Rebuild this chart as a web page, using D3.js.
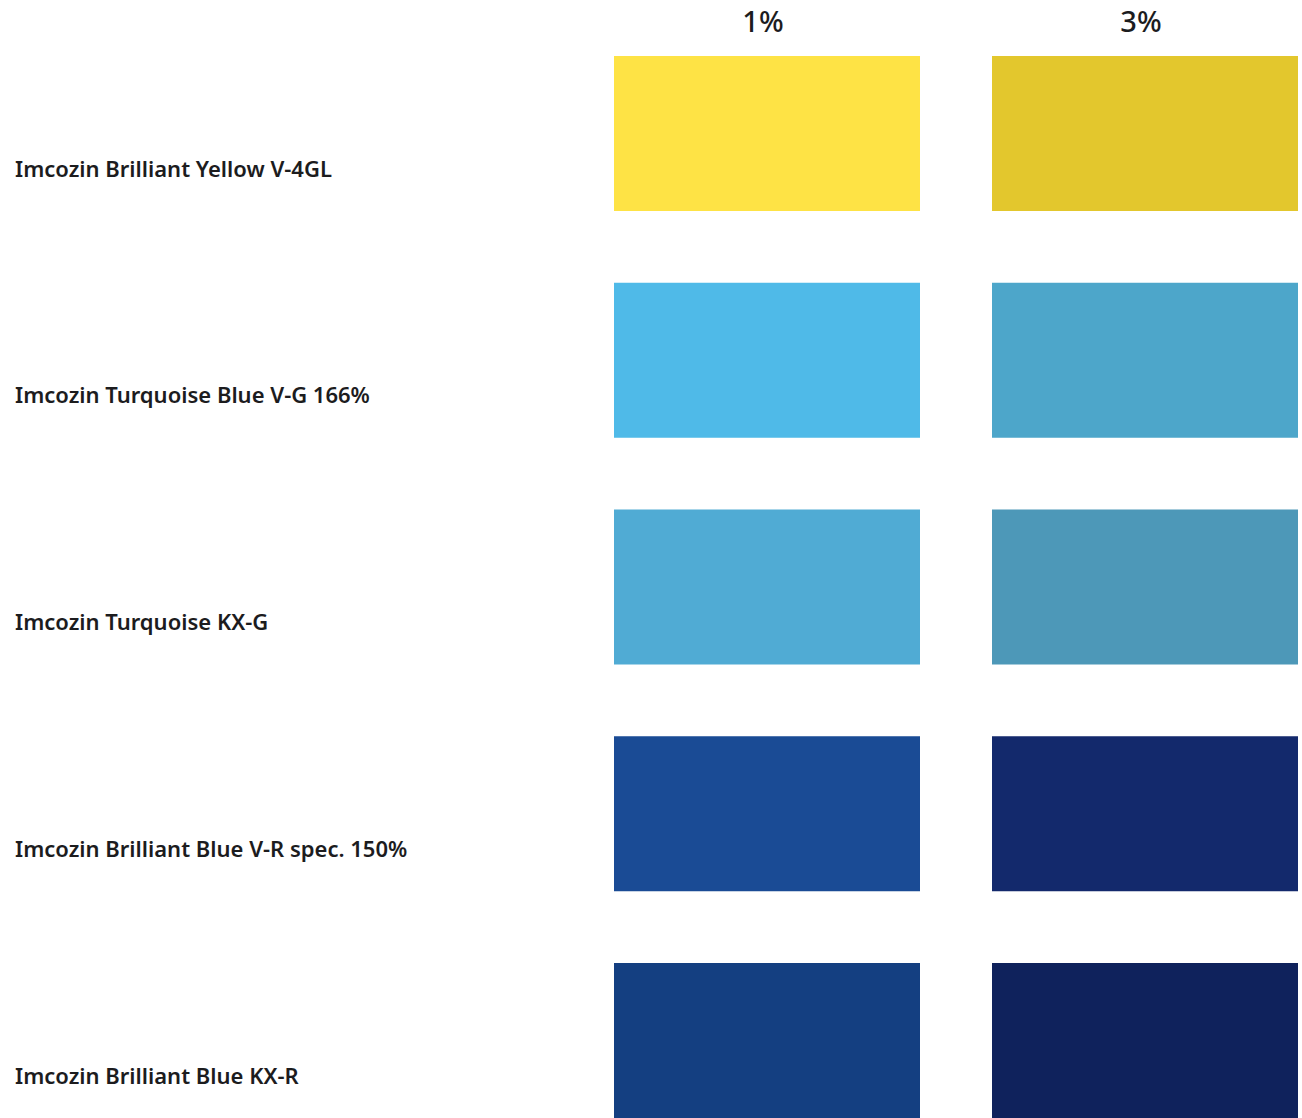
<!DOCTYPE html>
<html>
<head>
<meta charset="utf-8">
<script src="https://cdn.jsdelivr.net/npm/d3@7"></script>
<style>
  html, body { margin: 0; padding: 0; background: #fff; }
  svg { display: block; }
</style>
</head>
<body>
<svg id="chart" width="1302" height="1118"></svg>
<script>
const dyes = [
  "Imcozin Brilliant Yellow V-4GL",
  "Imcozin Turquoise Blue V-G 166%",
  "Imcozin Turquoise KX-G",
  "Imcozin Brilliant Blue V-R spec. 150%",
  "Imcozin Brilliant Blue KX-R"
];
const concentrations = ["1%", "3%"];
const colors1 = ["#FEE345", "#4FBAE8", "#50ABD4", "#1A4B95", "#143F81"];
const colors3 = ["#E3C72D", "#4DA6CA", "#4D98B8", "#13296C", "#0F225C"];

const cells = [];
dyes.forEach((d, i) => {
  cells.push({ dye: d, conc: concentrations[0], color: colors1[i] });
  cells.push({ dye: d, conc: concentrations[1], color: colors3[i] });
});

const svg = d3.select("#chart");

const x = d3.scaleBand().domain(concentrations).range([614, 1298]).paddingInner(72 / 378).paddingOuter(0);
const y = d3.scaleBand().domain(dyes).range([56, 1118]).paddingInner(71.75 / 226.75).paddingOuter(0);

svg.selectAll("rect.cell").data(cells).join("rect")
  .attr("class", "cell")
  .attr("x", d => x(d.conc))
  .attr("y", d => y(d.dye))
  .attr("width", x.bandwidth())
  .attr("height", y.bandwidth())
  .attr("fill", d => d.color);

svg.selectAll("text.col").data(concentrations).join("text")
  .attr("class", "col")
  .attr("x", d => x(d) + x.bandwidth() / 2 - 4)
  .attr("y", 32)
  .attr("text-anchor", "middle")
  .attr("font-family", "'Noto Sans', sans-serif")
  .attr("font-weight", 500)
  .attr("font-size", 29)
  .attr("fill", "#1c1c1e")
  .text(d => d);

svg.selectAll("text.row").data(dyes).join("text")
  .attr("class", "row")
  .attr("x", 15)
  .attr("y", d => y(d) + y.bandwidth() / 2 + 43)
  .attr("font-family", "'Noto Sans', sans-serif")
  .attr("font-weight", 600)
  .attr("font-size", 22)
  .attr("fill", "#1c1c1e")
  .text(d => d);
</script>
</body>
</html>
